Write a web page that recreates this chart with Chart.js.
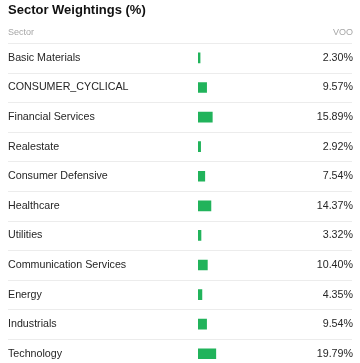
<!DOCTYPE html>
<html>
<head>
<meta charset="utf-8">
<script src="https://cdn.jsdelivr.net/npm/chart.js@4/dist/chart.umd.min.js"></script>
<style>
    html, body { margin: 0; padding: 0; background: #fff; overflow: hidden; }
    canvas { display: block; }
</style>
</head>
<body>
<canvas id="diagram" width="360" height="375"></canvas>
<script>
const sectors = ['Basic Materials', 'CONSUMER_CYCLICAL', 'Financial Services', 'Realestate',
    'Consumer Defensive', 'Healthcare', 'Utilities', 'Communication Services', 'Energy',
    'Industrials', 'Technology'];
const weights = [2.30, 9.57, 15.89, 2.92, 7.54, 14.37, 3.32, 10.40, 4.35, 9.54, 19.79];
const fundName = 'VOO';

window.onload = init;

function init() {
    createChart();
}

// draws the row separators and the "Sector / VOO" header
const tablePlugin = {
    id: 'tableLines',
    beforeDatasetsDraw(chart) {
        const ctx = chart.ctx;
        const y = chart.scales.y;
        const half = (y.getPixelForValue(1) - y.getPixelForValue(0)) / 2;
        ctx.save();
        ctx.strokeStyle = '#ececec';
        ctx.lineWidth = 1;
        for (let i = 0; i < sectors.length; i++) {
            const py = Math.round(y.getPixelForValue(i) - half) + 0.5;
            ctx.beginPath();
            ctx.moveTo(8, py);
            ctx.lineTo(352, py);
            ctx.stroke();
        }
        ctx.fillStyle = '#a6a6a6';
        ctx.font = '9px "Liberation Sans", Arial, sans-serif';
        ctx.textBaseline = 'middle';
        const hy = y.getPixelForValue(0) - half - 11;
        ctx.textAlign = 'left';
        ctx.fillText('Sector', 8, hy);
        ctx.textAlign = 'right';
        ctx.fillText(fundName, 353, hy);
        ctx.restore();
    }
};

function createChart() {
    const ctx = document.getElementById('diagram').getContext('2d');
    const labelFont = { family: '"Liberation Sans", Arial, sans-serif', size: 10.7 };

    new Chart(ctx, {
        type: 'bar',
        data: {
            labels: sectors,
            datasets: [
                {
                    label: fundName,
                    data: weights,
                    backgroundColor: '#21b35b',
                    barThickness: 10,
                    yAxisID: 'y'
                }
            ]
        },
        options: {
            indexAxis: 'y',
            responsive: false,
            animation: false,
            layout: { padding: { left: 8, right: 7, top: 0, bottom: 0 } },
            plugins: {
                legend: { display: false },
                tooltip: { enabled: false },
                title: {
                    display: true,
                    text: 'Sector Weightings (%)',
                    align: 'start',
                    color: '#111',
                    font: { family: '"Liberation Sans", Arial, sans-serif', size: 13, weight: 'bold' },
                    padding: { top: 3, bottom: 24.5 }
                }
            },
            scales: {
                x: {
                    min: 0,
                    max: 100,
                    display: false
                },
                y: {
                    position: 'left',
                    grid: { display: false },
                    border: { display: false },
                    ticks: { crossAlign: 'far', color: '#262626', font: labelFont, padding: 0 },
                    afterFit: scale => { scale.width = 190; }
                },
                y2: {
                    type: 'category',
                    position: 'right',
                    labels: weights.map(v => v.toFixed(2) + '%'),
                    grid: { display: false },
                    border: { display: false },
                    ticks: { crossAlign: 'far', color: '#262626', font: labelFont, padding: 0 },
                    afterFit: scale => { scale.width = 65; }
                }
            }
        },
        plugins: [tablePlugin]
    });
}
</script>
</body>
</html>
